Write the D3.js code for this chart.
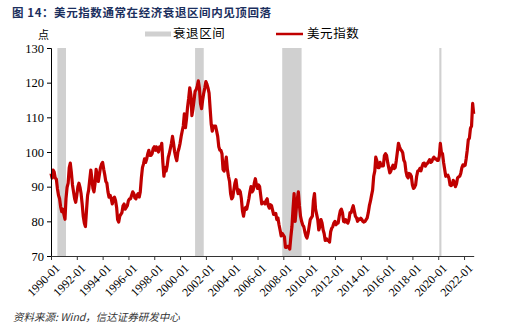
<!DOCTYPE html>
<html>
<head>
<meta charset="utf-8">
<script src="https://cdn.jsdelivr.net/npm/d3@7/dist/d3.min.js"></script>
<style>
  html, body { margin: 0; padding: 0; background: #fff; }
  svg { display: block; }
</style>
</head>
<body>
<svg id="chart" width="519" height="326"></svg>
<script>
// US Dollar Index, monthly, starting 1990-01
const startMonth = "1990-01";
const dxy = [
  93.8, 92.5, 94.8, 94.2, 92.5, 92.2, 89.5, 87.5, 86.5, 84.2, 82.8, 83.5,   // 1990
  82.0, 80.6, 86.5, 89.8, 91.0, 95.5, 96.8, 94.0, 90.5, 88.5, 86.5, 85.5,   // 1991
  87.5, 90.0, 91.0, 89.8, 88.0, 85.0, 81.5, 79.5, 78.5, 83.0, 87.5, 89.0,   // 1992
  92.0, 94.8, 92.5, 89.5, 88.5, 91.0, 95.0, 93.0, 91.5, 93.5, 95.5, 96.5,   // 1993
  97.0, 95.0, 93.5, 91.5, 91.0, 88.5, 87.0, 87.5, 86.5, 85.0, 86.5, 87.0,   // 1994
  86.0, 84.0, 80.5, 79.8, 81.5, 82.0, 82.5, 84.5, 85.0, 83.5, 84.0, 84.5,   // 1995
  86.0, 86.5, 86.5, 87.5, 88.5, 88.0, 86.8, 86.5, 87.5, 88.0, 87.0, 88.5,   // 1996
  92.5, 95.5, 96.5, 98.0, 97.0, 98.0, 99.5, 100.5, 99.0, 99.0, 99.5, 101.0, // 1997
  101.5, 100.5, 101.5, 100.5, 100.0, 101.5, 101.0, 102.5, 97.0, 93.0, 95.5, 94.5, // 1998
  96.0, 98.5, 99.5, 101.0, 102.5, 104.5, 102.5, 100.0, 98.5, 97.5, 100.0, 101.0,  // 1999
  102.5, 104.5, 106.0, 107.5, 111.0, 107.0, 109.5, 113.0, 115.5, 118.5, 116.5, 110.5, // 2000
  112.5, 115.0, 117.5, 118.0, 119.0, 120.5, 118.5, 114.0, 112.5, 115.0, 117.0, 118.5, // 2001
  120.3, 119.5, 118.5, 117.0, 112.5, 108.0, 106.0, 107.5, 107.5, 107.5, 106.0, 104.5, // 2002
  101.5, 100.5, 100.5, 99.5, 95.0, 94.5, 96.5, 98.5, 95.0, 93.0, 91.5, 88.0,  // 2003
  86.5, 87.0, 89.0, 91.0, 92.0, 89.5, 88.0, 89.0, 88.5, 86.5, 83.0, 81.5,   // 2004
  83.5, 84.0, 83.5, 85.0, 86.5, 88.5, 90.0, 88.5, 89.0, 91.0, 92.3, 90.5,   // 2005
  89.5, 90.5, 90.0, 87.5, 85.0, 85.5, 85.5, 85.0, 86.0, 86.5, 84.5, 83.8,   // 2006
  84.8, 84.5, 83.3, 82.0, 82.0, 82.3, 80.5, 81.0, 79.0, 77.5, 75.8, 76.5,   // 2007
  76.0, 75.5, 72.5, 72.5, 72.8, 72.7, 72.0, 75.5, 78.5, 83.5, 88.0, 80.0,   // 2008
  83.5, 86.5, 88.5, 84.5, 81.5, 80.0, 79.0, 78.5, 77.0, 75.8, 75.2, 76.5,   // 2009
  78.5, 80.5, 81.0, 81.5, 86.0, 88.0, 83.5, 82.0, 80.5, 77.5, 78.5, 80.5,   // 2010
  79.5, 77.5, 76.5, 74.5, 75.0, 74.5, 74.5, 74.0, 77.0, 78.0, 78.5, 79.5,   // 2011
  80.0, 79.0, 79.5, 79.5, 81.5, 83.0, 83.5, 82.5, 80.0, 79.8, 80.5, 79.8,   // 2012
  79.5, 80.5, 82.5, 82.5, 83.5, 84.5, 83.0, 81.5, 81.0, 80.0, 80.7, 80.5,   // 2013
  80.9, 80.5, 80.0, 79.8, 80.0, 80.5, 81.0, 82.5, 84.5, 85.8, 87.5, 89.0,   // 2014
  93.0, 94.5, 98.5, 97.5, 95.5, 95.5, 97.0, 96.0, 96.0, 96.0, 99.0, 99.5,   // 2015
  99.0, 97.0, 95.5, 94.0, 94.5, 95.5, 96.2, 95.2, 95.5, 97.5, 100.0, 102.5, // 2016
  101.5, 100.7, 100.4, 99.8, 97.7, 97.0, 94.5, 93.0, 92.5, 93.8, 93.6, 93.0, // 2017
  90.5, 89.5, 89.8, 90.5, 93.0, 94.5, 94.6, 95.3, 94.6, 95.8, 96.7, 96.8,   // 2018
  95.9, 96.5, 96.7, 97.2, 97.8, 97.0, 97.2, 98.0, 98.5, 98.0, 98.0, 97.6,   // 2019
  97.6, 98.8, 102.5, 99.8, 99.5, 97.0, 95.0, 93.0, 93.2, 93.3, 92.4, 90.5,  // 2020
  90.3, 90.6, 91.8, 91.3, 90.0, 90.8, 92.5, 92.8, 93.0, 93.9, 95.5, 96.3,   // 2021
  96.0, 96.2, 98.0, 100.5, 103.5, 104.0, 106.8, 107.5, 114.0, 111.0         // 2022
];

// NBER recession periods [start, end]
const recessions = [
  ["1990-07", "1991-03"],
  ["2001-03", "2001-11"],
  ["2007-12", "2009-06"],
  ["2020-02", "2020-04"]
];

const xTickLabels = ["1990-01", "1992-01", "1994-01", "1996-01", "1998-01", "2000-01",
  "2002-01", "2004-01", "2006-01", "2008-01", "2010-01", "2012-01", "2014-01",
  "2016-01", "2018-01", "2020-01", "2022-01"];
const yTicks = [70, 80, 90, 100, 110, 120, 130];

const titleText = "图 14：美元指数通常在经济衰退区间内见顶回落";
const unitText = "点";
const legendRecession = "衰退区间";
const legendSeries = "美元指数";
const sourceText = "资料来源: Wind，信达证券研发中心";

const parseMonth = d3.timeParse("%Y-%m");
const start = parseMonth(startMonth);
const series = dxy.map((v, i) => ({ date: d3.timeMonth.offset(start, i), value: v }));

const svg = d3.select("#chart");
const plot = { left: 51, right: 473.7, top: 48, bottom: 256 };

const x = d3.scaleTime()
  .domain([start, parseMonth("2022-10")])
  .range([plot.left, plot.right]);
const y = d3.scaleLinear().domain([70, 130]).range([plot.bottom, plot.top]);

const cjk = "'Noto Sans CJK SC', 'Noto Sans', sans-serif";
const serif = "'Liberation Serif', 'DejaVu Serif', serif";

// title
svg.append("text")
  .attr("x", 12).attr("y", 17)
  .attr("font-family", cjk).attr("font-weight", 700).attr("font-size", 11.5)
  .attr("fill", "#1b2f5e")
  .attr("textLength", 259).attr("lengthAdjust", "spacing")
  .text(titleText);

// recession bands
svg.append("g").selectAll("rect")
  .data(recessions)
  .join("rect")
  .attr("x", d => x(parseMonth(d[0])))
  .attr("width", d => x(parseMonth(d[1])) - x(parseMonth(d[0])))
  .attr("y", plot.top)
  .attr("height", plot.bottom - plot.top)
  .attr("fill", "#d0d0d0");

// dollar index line
svg.append("path")
  .datum(series)
  .attr("fill", "none")
  .attr("stroke", "#c00000")
  .attr("stroke-width", 3.2)
  .attr("stroke-linejoin", "round")
  .attr("d", d3.line().x(d => x(d.date)).y(d => y(d.value)));

// y axis
const yAxis = svg.append("g")
  .attr("transform", `translate(${plot.left},0)`)
  .call(d3.axisLeft(y).tickValues(yTicks).tickSize(4).tickPadding(3));
yAxis.select(".domain").attr("stroke", "#000");
yAxis.selectAll(".tick line").attr("stroke", "#000");
yAxis.selectAll("text")
  .attr("font-family", serif).attr("font-size", 12.5).attr("fill", "#000");

// x axis
const xAxis = svg.append("g")
  .attr("transform", `translate(0,${plot.bottom})`)
  .call(d3.axisBottom(x)
    .tickValues(xTickLabels.map(parseMonth))
    .tickFormat(d3.timeFormat("%Y-%m"))
    .tickSize(4).tickSizeOuter(0));
xAxis.select(".domain").attr("stroke", "#333");
xAxis.selectAll(".tick line").attr("stroke", "#333");
xAxis.selectAll("text")
  .attr("font-family", serif).attr("font-size", 12).attr("fill", "#000")
  .attr("text-anchor", "end")
  .attr("dx", 0).attr("dy", 0)
  .attr("transform", "translate(4,8) rotate(-45)");

// unit label
svg.append("text")
  .attr("x", 38).attr("y", 39)
  .attr("font-family", cjk).attr("font-size", 11).attr("fill", "#000")
  .text(unitText);

// legend
svg.append("rect")
  .attr("x", 145).attr("y", 31.5).attr("width", 26).attr("height", 5)
  .attr("fill", "#d0d0d0");
svg.append("text")
  .attr("x", 173).attr("y", 37.5)
  .attr("font-family", cjk).attr("font-size", 12.5).attr("letter-spacing", 0.6)
  .attr("fill", "#000")
  .text(legendRecession);
svg.append("line")
  .attr("x1", 276).attr("x2", 303).attr("y1", 34).attr("y2", 34)
  .attr("stroke", "#c00000").attr("stroke-width", 2.5);
svg.append("text")
  .attr("x", 307).attr("y", 37.5)
  .attr("font-family", cjk).attr("font-size", 12.5).attr("letter-spacing", 0.6)
  .attr("fill", "#000")
  .text(legendSeries);

// source note
svg.append("text")
  .attr("x", 13).attr("y", 321)
  .attr("font-family", cjk).attr("font-style", "italic").attr("font-size", 10.5)
  .attr("fill", "#333")
  .text(sourceText);
</script>
</body>
</html>
